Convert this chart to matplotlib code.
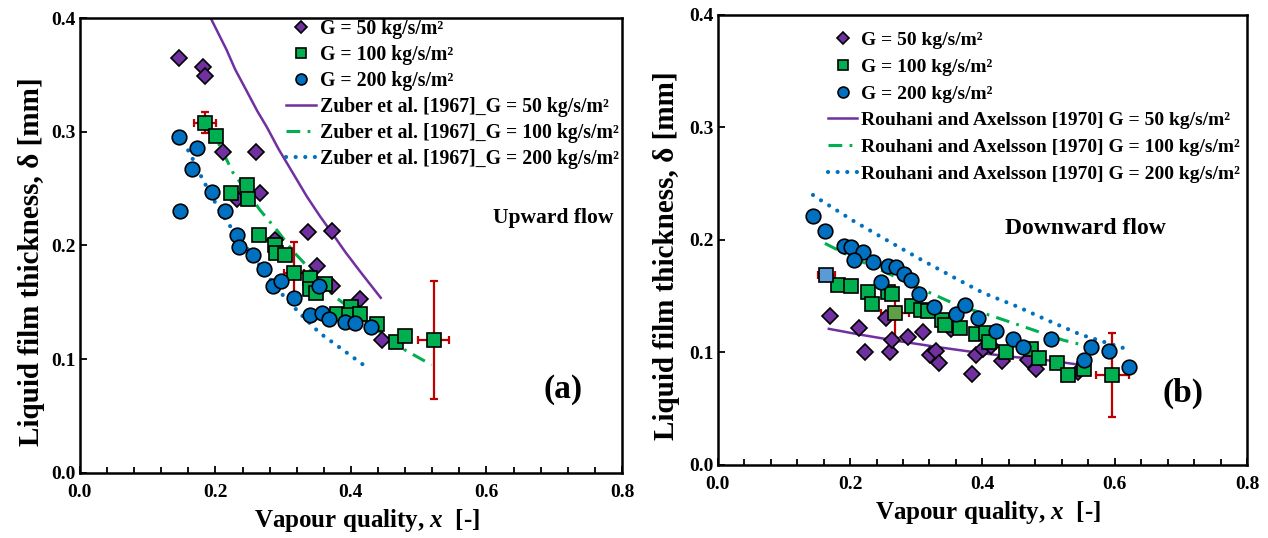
import numpy as np
import matplotlib
matplotlib.use('Agg')
import matplotlib.pyplot as plt
from matplotlib.ticker import MultipleLocator

plt.rcParams['font.family'] = ['Liberation Serif', 'DejaVu Serif']
plt.rcParams['font.weight'] = 'bold'
plt.rcParams['axes.labelweight'] = 'bold'
plt.rcParams['mathtext.fontset'] = 'custom'
plt.rcParams['mathtext.it'] = 'Liberation Serif:italic:bold'
plt.rcParams['mathtext.rm'] = 'Liberation Serif:bold'

# ---- (a) upward flow: measured film thickness ----
up_x50 = [0.146, 0.182, 0.184, 0.211, 0.260, 0.266, 0.232, 0.288, 0.337, 0.372, 0.350, 0.372, 0.413, 0.446]
up_y50 = [0.365, 0.357, 0.349, 0.282, 0.282, 0.246, 0.241, 0.205, 0.212, 0.213, 0.182, 0.164, 0.153, 0.117]

up_x100 = [0.185, 0.201, 0.246, 0.223, 0.248, 0.265, 0.288, 0.290, 0.303, 0.316, 0.340, 0.340, 0.349,
           0.362, 0.379, 0.400, 0.397, 0.413, 0.439, 0.467, 0.480, 0.522]
up_y100 = [0.308, 0.296, 0.253, 0.246, 0.241, 0.209, 0.200, 0.193, 0.192, 0.176, 0.171, 0.162, 0.158,
           0.166, 0.140, 0.146, 0.139, 0.140, 0.131, 0.115, 0.120, 0.117]

up_x200 = [0.146, 0.173, 0.166, 0.195, 0.148, 0.214, 0.232, 0.235, 0.256, 0.271, 0.285, 0.297, 0.316,
           0.339, 0.357, 0.368, 0.353, 0.391, 0.406, 0.430]
up_y200 = [0.295, 0.286, 0.267, 0.247, 0.230, 0.230, 0.209, 0.199, 0.192, 0.179, 0.164, 0.169, 0.154,
           0.139, 0.141, 0.135, 0.164, 0.133, 0.132, 0.128]

# error bars (a)
up_err_x = [0.185, 0.316, 0.522]
up_err_y = [0.308, 0.176, 0.117]
up_err_dx = [0.016, 0.015, 0.023]
up_err_dy = [0.009, 0.027, 0.052]

# Zuber et al. [1967] curves
zub_x50 = [0.193, 0.2165, 0.229, 0.246, 0.262, 0.276, 0.293, 0.315, 0.335, 0.354, 0.372, 0.392, 0.415, 0.444]
zub_y50 = [0.400, 0.372, 0.355, 0.336, 0.318, 0.304, 0.285, 0.263, 0.243, 0.226, 0.211, 0.194, 0.176, 0.154]
zub_x100 = [0.185, 0.202, 0.226, 0.236, 0.266, 0.290, 0.316, 0.354, 0.374, 0.396, 0.428, 0.480, 0.519]
zub_y100 = [0.304, 0.293, 0.264, 0.256, 0.231, 0.214, 0.194, 0.170, 0.156, 0.146, 0.130, 0.108, 0.095]
zub_x200 = [0.153, 0.165, 0.177, 0.192, 0.207, 0.224, 0.246, 0.276, 0.300, 0.325, 0.354, 0.384, 0.423]
zub_y200 = [0.291, 0.278, 0.263, 0.246, 0.230, 0.215, 0.198, 0.174, 0.156, 0.140, 0.123, 0.110, 0.093]

# ---- (b) downward flow ----
dn_x50 = [0.169, 0.214, 0.222, 0.255, 0.260, 0.264, 0.287, 0.310, 0.321, 0.330, 0.335, 0.352, 0.385,
          0.390, 0.401, 0.413, 0.429, 0.469, 0.481, 0.545]
dn_y50 = [0.132, 0.122, 0.100, 0.131, 0.100, 0.111, 0.114, 0.118, 0.098, 0.101, 0.091, 0.121, 0.081,
          0.098, 0.103, 0.106, 0.092, 0.093, 0.085, 0.083]

dn_x100 = [0.182, 0.202, 0.227, 0.233, 0.257, 0.263, 0.294, 0.307, 0.318, 0.339, 0.344, 0.366, 0.390,
           0.405, 0.410, 0.436, 0.473, 0.485, 0.513, 0.530, 0.553]
dn_y100 = [0.160, 0.159, 0.154, 0.143, 0.154, 0.152, 0.141, 0.138, 0.137, 0.129, 0.124, 0.122, 0.116,
           0.117, 0.109, 0.100, 0.103, 0.095, 0.091, 0.080, 0.085]

dn_x200 = [0.144, 0.162, 0.191, 0.202, 0.219, 0.206, 0.234, 0.258, 0.270, 0.281, 0.292, 0.247, 0.304,
           0.327, 0.360, 0.374, 0.394, 0.421, 0.447, 0.462, 0.503, 0.564, 0.554, 0.591, 0.622]
dn_y200 = [0.221, 0.208, 0.195, 0.194, 0.189, 0.182, 0.180, 0.177, 0.176, 0.170, 0.164, 0.163, 0.152,
           0.140, 0.134, 0.142, 0.131, 0.119, 0.112, 0.105, 0.112, 0.105, 0.093, 0.101, 0.087]

# error bars (b)
dn_err_x = [0.164, 0.268, 0.596]
dn_err_y = [0.169, 0.135, 0.080]
dn_err_dx = [0.013, 0.021, 0.025]
dn_err_dy = [0.004, 0.022, 0.037]
dn_err_face = ['#5b9bd5', '#5f9f46', '#00b050']

# Rouhani and Axelsson [1970] curves
rou_x50 = [0.168, 0.214, 0.264, 0.330, 0.391, 0.447, 0.487, 0.548]
rou_y50 = [0.121, 0.116, 0.111, 0.105, 0.100, 0.096, 0.094, 0.089]
rou_x100 = [0.162, 0.205, 0.255, 0.306, 0.366, 0.412, 0.472, 0.522, 0.590]
rou_y100 = [0.197, 0.184, 0.171, 0.157, 0.141, 0.133, 0.121, 0.111, 0.101]
rou_x200 = [0.144, 0.154, 0.205, 0.255, 0.306, 0.356, 0.401, 0.452, 0.497, 0.548, 0.613]
rou_y200 = [0.240, 0.236, 0.217, 0.200, 0.183, 0.167, 0.153, 0.141, 0.129, 0.116, 0.104]

PURPLE = '#7030a0'
GREEN = '#00b050'
BLUE = '#0070c0'
RED = '#c00000'

fig = plt.figure(figsize=(12.68, 5.38), dpi=100)
ax1 = fig.add_axes([0.063, 0.121, 0.4275, 0.8455])
ax2 = fig.add_axes([0.566, 0.1357, 0.4175, 0.8365])


def style_axes(ax, xlab_x, ylab_x):
    ax.set_xlim(0, 0.8)
    ax.set_ylim(0, 0.4)
    ax.xaxis.set_major_locator(MultipleLocator(0.2))
    ax.xaxis.set_minor_locator(MultipleLocator(0.04))
    ax.yaxis.set_major_locator(MultipleLocator(0.1))
    ax.xaxis.set_major_formatter('{x:.1f}')
    ax.yaxis.set_major_formatter('{x:.1f}')
    ax.tick_params(which='both', direction='in', top=False, right=False, labelsize=14, width=1.3)
    ax.tick_params(which='major', length=5)
    ax.tick_params(which='minor', length=4)
    ax.tick_params(axis='x', pad=8)
    ax.tick_params(axis='y', pad=3)
    for s in ax.spines.values():
        s.set_linewidth(1.8)
    ax.set_xlabel('Vapour quality, $x$  [-]', fontsize=18)
    ax.set_ylabel('Liquid film thickness, δ [mm]', fontsize=21)
    ax.xaxis.set_label_coords(xlab_x, -0.075)
    ax.yaxis.set_label_coords(ylab_x, 0.465)


def dotted(ax, x, y, label):
    ln, = ax.plot(x, y, color=BLUE, lw=3.0, label=label, zorder=2)
    ln.set_dashes([0.01, 2.3])
    ln.set_dash_capstyle('round')
    return ln


def dashdot(ax, x, y, label):
    ln, = ax.plot(x, y, color=GREEN, lw=2.2, label=label, zorder=2)
    ln.set_dashes([4.5, 2.4, 0.9, 2.4])
    return ln


mk = dict(linestyle='none', markeredgecolor='black', markeredgewidth=1.2, zorder=4)

# ---------- panel (a) ----------
style_axes(ax1, 0.53, -0.064)
ax1.errorbar(up_err_x, up_err_y, xerr=up_err_dx, yerr=up_err_dy, fmt='none', ecolor=RED,
             elinewidth=1.6, capsize=3, capthick=1.6, zorder=3)
ax1.plot(up_x50, up_y50, marker='D', ms=8.5, color=PURPLE, label='G = 50 kg/s/m²', **mk)
ax1.plot(up_x100, up_y100, marker='s', ms=9.5, color=GREEN, label='G = 100 kg/s/m²', **mk)
ax1.plot(up_x200, up_y200, marker='o', ms=10.5, color=BLUE, label='G = 200 kg/s/m²', **mk)
ax1.plot(zub_x50, zub_y50, color=PURPLE, lw=1.8, label='Zuber et al. [1967]_G = 50 kg/s/m²', zorder=2)
dashdot(ax1, zub_x100, zub_y100, 'Zuber et al. [1967]_G = 100 kg/s/m²')
dotted(ax1, zub_x200, zub_y200, 'Zuber et al. [1967]_G = 200 kg/s/m²')
ax1.legend(loc='upper right', bbox_to_anchor=(1.006, 1.01), frameon=False, fontsize=14.2,
           handlelength=1.55, handletextpad=0.2, labelspacing=0.3, borderpad=0.2,
           borderaxespad=0.1, markerscale=0.75)
ax1.text(0.698, 0.224, 'Upward flow', fontsize=15.5, ha='center', va='center')
ax1.text(0.713, 0.073, '(a)', fontsize=24, ha='center', va='center')

# ---------- panel (b) ----------
style_axes(ax2, 0.51, -0.072)
ax2.errorbar(dn_err_x, dn_err_y, xerr=dn_err_dx, yerr=dn_err_dy, fmt='none', ecolor=RED,
             elinewidth=1.6, capsize=3, capthick=1.6, zorder=3)
ax2.plot(dn_x50, dn_y50, marker='D', ms=8.5, color=PURPLE, label='G = 50 kg/s/m²', **mk)
ax2.plot(dn_x100, dn_y100, marker='s', ms=9.5, color=GREEN, label='G = 100 kg/s/m²', **mk)
ax2.plot(dn_x200, dn_y200, marker='o', ms=10.5, color=BLUE, label='G = 200 kg/s/m²', **mk)
for xe, ye, fc in zip(dn_err_x, dn_err_y, dn_err_face):
    ax2.plot(xe, ye, marker='s', ms=9.5, markerfacecolor=fc, **mk)
ax2.plot(rou_x50, rou_y50, color=PURPLE, lw=1.8, label='Rouhani and Axelsson [1970] G = 50 kg/s/m²', zorder=2)
dashdot(ax2, rou_x100, rou_y100, 'Rouhani and Axelsson [1970] G = 100 kg/s/m²')
dotted(ax2, rou_x200, rou_y200, 'Rouhani and Axelsson [1970] G = 200 kg/s/m²')
ax2.legend(loc='upper right', bbox_to_anchor=(1.005, 0.985), frameon=False, fontsize=14,
           handlelength=1.5, handletextpad=0.2, labelspacing=0.47, borderaxespad=0.1, markerscale=0.75)
ax2.text(0.555, 0.210, 'Downward flow', fontsize=17, ha='center', va='center')
ax2.text(0.703, 0.064, '(b)', fontsize=24, ha='center', va='center')

fig.savefig('out.png', dpi=100)
